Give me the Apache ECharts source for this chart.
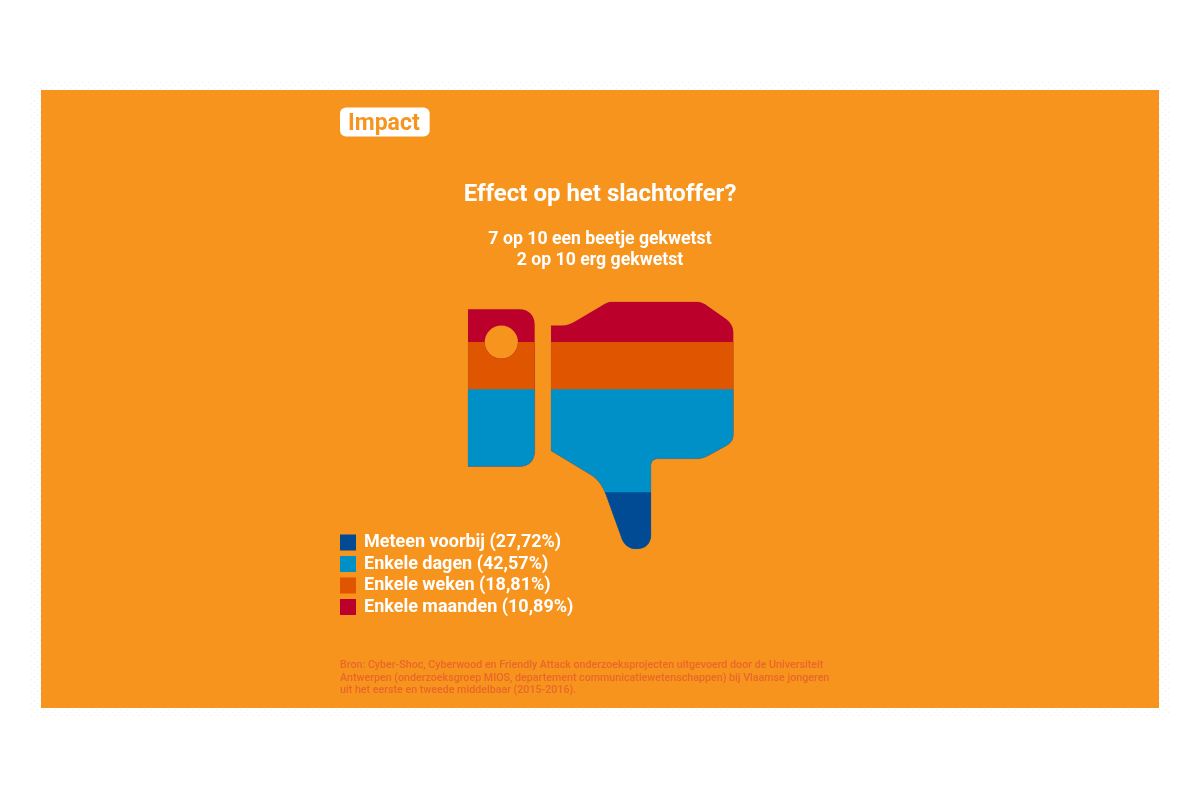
<!DOCTYPE html>
<html><head><meta charset="utf-8">
<style>html,body{margin:0;padding:0;background:#fff}#c{width:1200px;height:800px}</style>
<script src="https://cdn.jsdelivr.net/npm/echarts@6/dist/echarts.min.js"></script></head>
<body><div id="c"></div>
<script>
const categories = ['Meteen voorbij','Enkele dagen','Enkele weken','Enkele maanden'];
const shareLabels = ['27,72','42,57','18,81','10,89'];
// heights of the fill bands as drawn in the picture (% of the thumb's height)
const bandHeights = [23.0, 41.6, 19.1, 16.3];
const colors = ['#004b93','#0090c8','#e05500','#bb002b'];
const logoText = 'Impact';
const titleText = 'Effect op het slachtoffer?';
const subText = '7 op 10 een beetje gekwetst\n2 op 10 erg gekwetst';
const sourceText = 'Bron: Cyber-Shoc, Cyberwood en Friendly Attack onderzoeksprojecten uitgevoerd door de Universiteit\nAntwerpen (onderzoeksgroep MIOS, departement communicatiewetenschappen) bij Vlaamse jongeren\nuit het eerste en tweede middelbaar (2015-2016).';

const FONT = 'Roboto';
const ORANGE = '#f7941d';
const thumb = 'path://M54 58 L208 58 C236 58 254 76 254 104 L254 484 C254 512 236 530 208 530 L54 530 Z '
 + 'M154 107 A50 50 0 0 0 154 207 A50 50 0 0 0 154 107 Z '
 + 'M303 107 L335 107 C352 107 364 102 375 95 L455 48 C467 40 476 35 490 35 L735 35 C750 35 762 40 775 50 L825 85 C842 97 850 110 850 128 '
 + 'L850 432 C850 448 845 458 830 467 L785 492 C768 502 755 507 740 507 L625 507 C610 507 603 514 603 528 L603 735 C603 762 585 778 558 778 '
 + 'C538 778 522 765 515 745 L470 620 C458 585 442 565 415 550 L303 483 Z';

const names = categories.map((c,i)=>c+' ('+shareLabels[i]+'%)');
let acc = 0;
const tops = bandHeights.map(v=>(acc+=v));

// faint dotted backdrop
const dot = document.createElement('canvas'); dot.width=6; dot.height=6;
const dc = dot.getContext('2d'); dc.fillStyle='#eeeeee'; dc.fillRect(1,1,1,1); dc.fillRect(4,4,1,1);

const chart = echarts.init(document.getElementById('c'), null, {renderer:'canvas'});
chart.setOption({
  animation:false,
  backgroundColor:'#fff',
  graphic:[
    {type:'rect',z:-10,shape:{x:31,y:80,width:1138,height:638},style:{fill:{image:dot,repeat:'repeat'}}},
    {type:'rect',z:-9,shape:{x:41,y:90,width:1118,height:618},style:{fill:ORANGE}}
  ],
  title:[
    {text:logoText,left:340,top:108.5,padding:[5,10,1,8],backgroundColor:'#fff',borderRadius:6,
     textStyle:{color:ORANGE,fontFamily:FONT,fontWeight:'bold',fontSize:23,lineHeight:21}},
    {text:titleText,left:600,top:180.5,textAlign:'center',padding:0,
     textStyle:{color:'#fff',fontFamily:FONT,fontWeight:'bold',fontSize:24,lineHeight:28}},
    {text:subText,left:600,top:229,textAlign:'center',padding:0,
     textStyle:{color:'#fff',fontFamily:FONT,fontWeight:'bold',fontSize:17.7,lineHeight:21}},
    {text:sourceText,left:340,top:659,padding:0,
     textStyle:{color:'#e9672a',fontFamily:FONT,fontWeight:500,fontSize:10.7,lineHeight:12.7}}
  ],
  legend:{
    orient:'vertical',left:340,top:533.5,padding:0,itemGap:3.5,itemWidth:16,itemHeight:16,
    icon:'rect',selectedMode:false,data:names,itemStyle:{borderWidth:0},
    textStyle:{color:'#fff',fontFamily:FONT,fontWeight:'bold',fontSize:18,lineHeight:16,padding:[0,0,0,3]}
  },
  grid:{left:468,top:301.7,width:265.3,height:247.6},
  xAxis:{type:'category',show:false,data:['']},
  yAxis:{type:'value',show:false,min:0,max:100},
  series:names.map((n,i)=>({
    name:n,type:'pictorialBar',symbol:thumb,symbolClip:true,symbolPosition:'start',
    symbolBoundingData:100,symbolSize:['100%','100%'],barWidth:'100%',z:10-i,
    itemStyle:{color:colors[i],borderColor:'rgba(110,110,110,0.4)',borderWidth:0.4},
    data:[tops[i]]
  }))
});
</script></body></html>
